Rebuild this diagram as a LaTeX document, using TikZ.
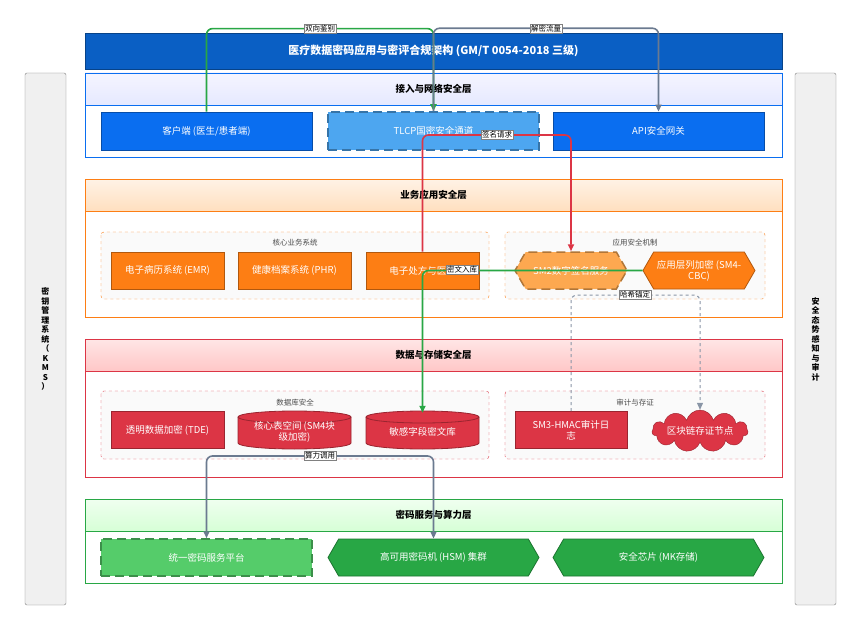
\documentclass[tikz,border=0pt]{standalone}
\usepackage{fontspec}
\setmainfont{Noto Sans CJK SC}
\usetikzlibrary{shapes.geometric,shapes.symbols,arrows.meta}
\definecolor{tb}{HTML}{0A5FC4}
\definecolor{bb}{HTML}{0A6EF0}
\definecolor{lb}{HTML}{4DA6F0}
\definecolor{or}{HTML}{FD7E14}
\definecolor{lor}{HTML}{FDA850}
\definecolor{rd}{HTML}{DC3545}
\definecolor{gr}{HTML}{28A745}
\definecolor{lgr}{HTML}{55CC6A}
\definecolor{gy}{HTML}{6B7A90}
\newcommand\mycyl[4]{%
 \fill[rd,draw=rd!70!black,line width=0.8pt] (#2-56.5,#3-13) -- (#2-56.5,#3+13) arc[start angle=180,end angle=360,x radius=56.5,y radius=-6] -- (#2+56.5,#3-13) arc[start angle=0,end angle=180,x radius=56.5,y radius=-6];
 \draw[rd!70!black,line width=0.8pt] (#2-56.5,#3-13) arc[start angle=180,end angle=360,x radius=56.5,y radius=-6];
 \node[text=white,align=center,minimum width=113,minimum height=38,inner sep=0pt] (#1) at (#2,#3+2) {#4};}
\begin{document}
\begin{tikzpicture}[x=1pt,y=-1pt,font=\fontsize{9.5}{11}\selectfont,
 box/.style={draw=#1!70!black,fill=#1,text=white,inner sep=1pt,align=center,line width=0.8pt},
 hex/.style={shape=signal,signal to=west and east,signal pointer angle=120,draw=#1!70!black,fill=#1,text=white,inner sep=1pt,align=center,line width=0.8pt},
 hdr/.style={font=\fontsize{9.5}{11}\selectfont\bfseries},
 grp/.style={draw=#1,dashed,rounded corners=3pt,fill=gray!4},
 gl/.style={font=\fontsize{7.5}{8}\selectfont\itshape,text=gray!60!black},
 lbl/.style={draw=gray,fill=white,inner sep=1pt,font=\fontsize{7.5}{8}\selectfont},
 conn/.style={line width=1.6pt,rounded corners=6pt,-{Triangle[length=7pt,width=6pt]}},
 side/.style={draw=gray,fill=gray!12,rounded corners=2pt}
]
\useasboundingbox (0,0) rectangle (863,634);
\fill[white] (0,0) rectangle (863,634);
% side bars
\draw[side] (25,73) rectangle (66,605);
\node[align=center,font=\fontsize{8}{9.5}\selectfont\bfseries] (kms) at (45.5,339) {密\\钥\\管\\理\\系\\统\\（\\K\\M\\S\\）};
\draw[side] (795,73) rectangle (836,605);
\node[align=center,font=\fontsize{8}{9.5}\selectfont\bfseries] (sa) at (815.5,339) {安\\全\\态\\势\\感\\知\\与\\审\\计};
% title
\node[box=tb,minimum width=697,minimum height=36,font=\fontsize{11}{13}\selectfont\bfseries] (title) at (433.5,51) {医疗数据密码应用与密评合规架构 (GM/T 0054-2018 三级)};
% layer 1
\draw[draw=bb,fill=white] (85,73) rectangle (782,157);
\fill[top color=blue!4,bottom color=cyan!12!blue!10] (85,73) rectangle (782,105);
\draw[bb] (85,73) rectangle (782,157) (85,105)--(782,105);
\node[hdr] (h1) at (433.5,89) {接入与网络安全层};
\node[box=bb,minimum width=211,minimum height=38] (client) at (206.5,131) {客户端 (医生/患者端)};
\node[box=lb,dashed,dash pattern=on 9pt off 5pt,line width=1.5pt,minimum width=211,minimum height=38] (tlcp) at (433.5,131) {TLCP国密安全通道};
\node[box=bb,minimum width=211,minimum height=38] (api) at (658.5,131) {API安全网关};
% layer 2
\draw[draw=or,fill=white] (85,179) rectangle (782,317);
\fill[top color=orange!10,bottom color=orange!25] (85,179) rectangle (782,211);
\draw[or] (85,179) rectangle (782,317) (85,211)--(782,211);
\node[hdr] (h2) at (433.5,195) {业务应用安全层};
\draw[grp=or] (101,232) rectangle (489,299);
\node[gl] (g1) at (295,243) {核心业务系统};
\draw[grp=or] (505,232) rectangle (765,299);
\node[gl] (g2) at (635,243) {应用安全机制};
\node[box=or,minimum width=113,minimum height=37] (emr) at (167.5,270.5) {电子病历系统 (EMR)};
\node[box=or,minimum width=113,minimum height=37] (phr) at (294.5,270.5) {健康档案系统 (PHR)};
\node[box=or,minimum width=113,minimum height=37] (rx) at (422.5,270.5) {电子处方与医保};
\node[hex=lor,dashed,dash pattern=on 9pt off 5pt,line width=1.5pt,minimum width=112,minimum height=37] (sm2) at (571,270.5) {SM2数字签名服务};
\node[hex=or,minimum width=112,minimum height=37] (sm4) at (699,270.5) {应用层列加密 (SM4-\\CBC)};
% layer 3
\draw[draw=rd,fill=white] (85,339) rectangle (782,477);
\fill[top color=red!10,bottom color=red!22] (85,339) rectangle (782,371);
\draw[rd] (85,339) rectangle (782,477) (85,371)--(782,371);
\node[hdr] (h3) at (433.5,355) {数据与存储安全层};
\draw[grp=rd] (101,391) rectangle (489,459);
\node[gl] (g3) at (295,403) {数据库安全};
\draw[grp=rd] (505,391) rectangle (765,459);
\node[gl] (g4) at (635,403) {审计与存证};
\node[box=rd,minimum width=113,minimum height=37] (tde) at (167.5,430) {透明数据加密 (TDE)};
\mycyl{ts}{294.5}{430}{核心表空间 (SM4块\\级加密)}
\mycyl{sens}{422.5}{430}{敏感字段密文库}
\node[box=rd,minimum width=112,minimum height=37] (hmac) at (571,430) {SM3-HMAC审计日\\志};
\node[shape=cloud,cloud puffs=11,aspect=3.5,draw=rd!70!black,fill=rd,text=white,inner sep=-3pt,minimum width=96,minimum height=26] (chain) at (700,431) {区块链存证节点};
% layer 4
\draw[draw=gr,fill=white] (85,499) rectangle (782,583);
\fill[top color=green!6,bottom color=green!16] (85,499) rectangle (782,531);
\draw[gr] (85,499) rectangle (782,583) (85,531)--(782,531);
\node[hdr] (h4) at (433.5,515) {密码服务与算力层};
\node[box=lgr,dashed,dash pattern=on 9pt off 5pt,line width=1.5pt,minimum width=211,minimum height=37] (ucs) at (206.5,557.5) {统一密码服务平台};
\node[hex=gr,minimum width=211,minimum height=37] (hsm) at (433.5,557.5) {高可用密码机 (HSM) 集群};
\node[hex=gr,minimum width=211,minimum height=37] (mk) at (658.5,557.5) {安全芯片 (MK存储)};
% connectors
\draw[conn,draw=gr] (client.north) -- ++(0,-83) -| (tlcp.north);
\node[lbl] (l1) at (320,29) {双向鉴别};
\draw[conn,draw=gy] (tlcp.north) -- ++(0,-83) -| (api.north);
\node[lbl] (l2) at (546,29) {解密流量};
\draw[conn,draw=rd] (rx.north) |- (497,135) -| (sm2.north);
\node[lbl] (l3) at (497,135) {签名请求};
\draw[conn,draw=gr] (sm4.west) -| (sens.north);
\node[lbl] (l4) at (462,270) {密文入库};
\draw[conn,draw=gy!80,line width=1pt,dashed] (hmac.north) |- (635,295) -| (chain.north);
\node[lbl] (l5) at (635,295) {哈希锚定};
\coordinate (cc) at (320,456);
\draw[conn,draw=gy] (cc) -| (ucs.north);
\draw[conn,draw=gy] (cc) -| (hsm.north);
\node[lbl] (l6) at (cc) {算力调用};
\end{tikzpicture}
\end{document}
